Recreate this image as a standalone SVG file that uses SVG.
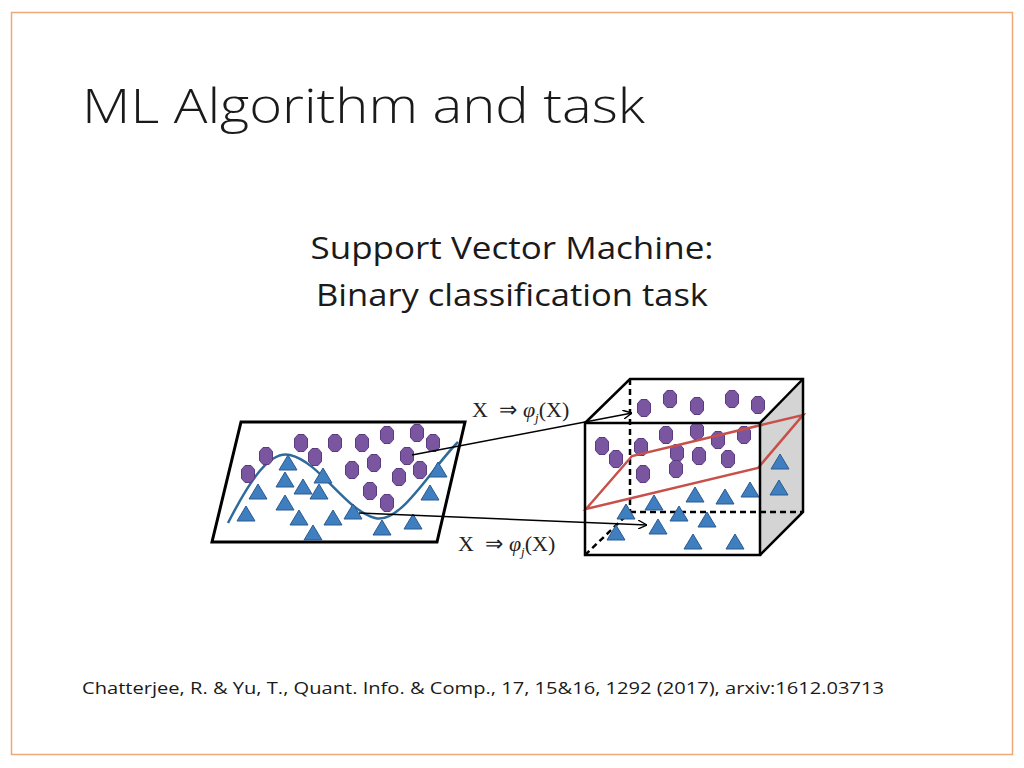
<svg xmlns="http://www.w3.org/2000/svg" width="1024" height="768" viewBox="0 0 1024 768">
<style>
.t{font-family:"Open Sans","Liberation Sans",sans-serif;fill:#1a1a1a}
.m{font-family:"Liberation Serif",serif;font-size:22px;fill:#222}
.edge{fill:none;stroke:#000;stroke-width:2.5}
.dash{fill:none;stroke:#000;stroke-width:2.5;stroke-dasharray:6 4}
.conn{fill:none;stroke:#000;stroke-width:1.5}
</style>
<defs>
<polygon id="h" points="-6.5,-4.5 -3,-8.5 3,-8.5 6.5,-4.5 6.5,4.5 3,8.5 -3,8.5 -6.5,4.5" fill="#7b56a0" stroke="#5a3b80" stroke-width="1"/>
<polygon id="tr" points="0,-8 9,7 -9,7" fill="#3f7fc0" stroke="#2a5a90" stroke-width="1"/>
<marker id="ar" viewBox="0 0 10 10" refX="10" refY="5" markerWidth="9" markerHeight="9" orient="auto" markerUnits="userSpaceOnUse"><path d="M0,0 L10,5 L0,10" fill="none" stroke="#000" stroke-width="1.5"/></marker>
</defs>
<rect x="0" y="0" width="1024" height="768" fill="#fff"/>
<rect x="11.5" y="12.5" width="1001" height="742" fill="none" stroke="#f0a878" stroke-width="1.5"/>
<text class="t" x="82" y="123" font-size="48" font-weight="300" textLength="563" lengthAdjust="spacingAndGlyphs">ML Algorithm and task</text>
<text class="t" x="512" y="259" font-size="31" text-anchor="middle" textLength="403" lengthAdjust="spacingAndGlyphs">Support Vector Machine:</text>
<text class="t" x="512" y="306" font-size="31" text-anchor="middle" textLength="392" lengthAdjust="spacingAndGlyphs">Binary classification task</text>
<text class="t" x="82" y="694" font-size="17" textLength="802" lengthAdjust="spacingAndGlyphs">Chatterjee, R. &amp; Yu, T., Quant. Info. &amp; Comp., 17, 15&amp;16, 1292 (2017), arxiv:1612.03713</text>

<g id="plane2d">
<polygon points="241,422 465,422 437,542 212,542" fill="#fff" stroke="#000" stroke-width="3"/>
<path d="M228,523 C250,480 270,450 290,455 C320,462 345,510 375,518 C400,525 430,470 458,442" fill="none" stroke="#2f6b9a" stroke-width="2.5"/>
<g>
<use href="#h" x="301" y="443"/><use href="#h" x="335" y="443"/><use href="#h" x="362" y="443"/><use href="#h" x="387" y="435"/><use href="#h" x="417" y="433"/><use href="#h" x="433" y="443"/><use href="#h" x="266" y="456"/><use href="#h" x="315" y="457"/><use href="#h" x="407" y="456"/><use href="#h" x="374" y="463"/><use href="#h" x="248" y="474"/><use href="#h" x="352" y="470"/><use href="#h" x="420" y="470"/><use href="#h" x="399" y="477"/><use href="#h" x="370" y="491"/><use href="#h" x="387" y="503"/>
<use href="#tr" x="288" y="463"/><use href="#tr" x="285" y="480"/><use href="#tr" x="323" y="476"/><use href="#tr" x="258" y="492"/><use href="#tr" x="303" y="487"/><use href="#tr" x="319" y="492"/><use href="#tr" x="438" y="470"/><use href="#tr" x="430" y="493"/><use href="#tr" x="285" y="503"/><use href="#tr" x="246" y="514"/><use href="#tr" x="299" y="518"/><use href="#tr" x="333" y="518"/><use href="#tr" x="353" y="512"/><use href="#tr" x="382" y="528"/><use href="#tr" x="413" y="522"/><use href="#tr" x="313" y="533"/>
</g>
</g>

<g id="box3d">
<polygon points="760,423 803,379 803,512 760,555" fill="#d4d4d4"/>
<line class="dash" x1="630" y1="379" x2="630" y2="512"/>
<line class="dash" x1="630" y1="512" x2="803" y2="512"/>
<line class="dash" x1="585" y1="555" x2="630" y2="512"/>
<g>
<use href="#h" x="644" y="408"/><use href="#h" x="670" y="399"/><use href="#h" x="697" y="406"/><use href="#h" x="732" y="399"/><use href="#h" x="758" y="405"/><use href="#h" x="602" y="446"/><use href="#h" x="641" y="447"/><use href="#h" x="666" y="435"/><use href="#h" x="697" y="431"/><use href="#h" x="718" y="440"/><use href="#h" x="744" y="435"/><use href="#h" x="616" y="459"/><use href="#h" x="677" y="453"/><use href="#h" x="699" y="456"/><use href="#h" x="728" y="459"/><use href="#h" x="643" y="474"/><use href="#h" x="676" y="469"/>
<use href="#tr" x="780" y="462"/><use href="#tr" x="779" y="488"/><use href="#tr" x="750" y="490"/><use href="#tr" x="725" y="497"/><use href="#tr" x="695" y="495"/><use href="#tr" x="654" y="503"/><use href="#tr" x="626" y="512"/><use href="#tr" x="616" y="533"/><use href="#tr" x="679" y="514"/><use href="#tr" x="707" y="520"/><use href="#tr" x="658" y="527"/><use href="#tr" x="693" y="542"/><use href="#tr" x="735" y="542"/>
</g>
<polygon points="586,509 632,456 803,415 758,468" fill="none" stroke="#c8504a" stroke-width="2.5"/>
<polygon class="edge" points="585,423 760,423 760,555 585,555"/>
<polyline class="edge" points="585,423 630,379 803,379 803,512 760,555"/>
<line class="edge" x1="760" y1="423" x2="803" y2="379"/>
</g>

<g id="connectors">
<line class="conn" x1="412" y1="455" x2="632" y2="413" marker-end="url(#ar)"/>
<line class="conn" x1="359" y1="513" x2="647" y2="525" marker-end="url(#ar)"/>
</g>
<text class="m" x="472" y="417">X <tspan dx="6">⇒</tspan> <tspan font-style="italic">φ</tspan><tspan font-size="13" font-style="italic" dy="5">j</tspan><tspan dy="-5">(X)</tspan></text>
<text class="m" x="458" y="551">X <tspan dx="6">⇒</tspan> <tspan font-style="italic">φ</tspan><tspan font-size="13" font-style="italic" dy="5">j</tspan><tspan dy="-5">(X)</tspan></text>
</svg>
